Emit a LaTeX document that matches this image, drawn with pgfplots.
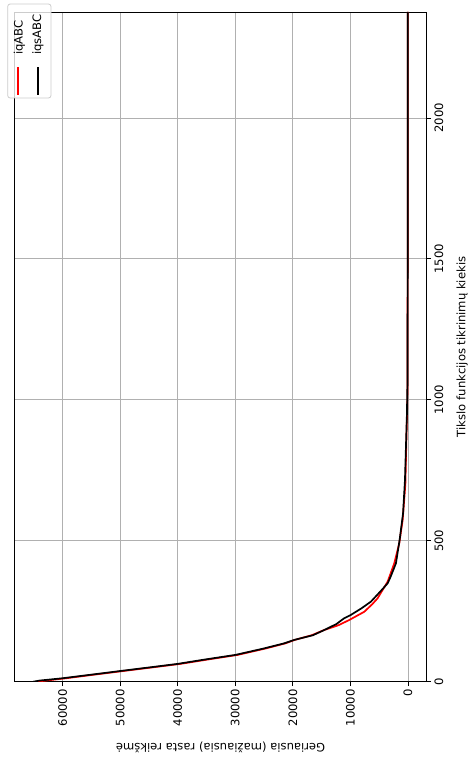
\documentclass[border=0pt]{standalone}
\usepackage{fontspec}
\setmainfont{DejaVu Sans}
\usepackage{pgfplots}
\pgfplotsset{compat=1.18}

\begin{document}
\begin{tikzpicture}[font=\fontsize{11.6}{13.5}\selectfont]
  % page size of the reference, axis box starts at (0,0)
  \useasboundingbox (-14.5pt,-81.3pt) rectangle (455.5pt,681.7pt);
  \begin{axis}[
      scale only axis,
      width=412.2pt,
      height=669.7pt,
      x dir=reverse,
      xmin=-3255, xmax=68355,
      ymin=0, ymax=2376,
      xtick={0,10000,20000,30000,40000,50000,60000},
      ytick={0,500,1000,1500,2000},
      scaled x ticks=false,
      /pgf/number format/1000 sep={},
      /pgf/number format/assume math mode=true,
      xtick pos=bottom,
      ytick pos=right,
      yticklabel pos=right,
      tick align=outside,
      major tick length=4.5pt,
      every tick/.style={black, line width=0.9pt},
      xticklabel style={rotate=90, anchor=east, inner sep=3pt},
      yticklabel style={rotate=90, anchor=north, inner sep=3pt},
      xlabel={Geriausia (mažiausia) rasta reikšmė},
      xlabel style={at={(rel axis cs:0.5,-0.0985)}, anchor=center, rotate=180},
      ylabel={Tikslo funkcijos tikrinimų kiekis},
      ylabel style={at={(rel axis cs:1.086,0.5)}, anchor=center},
      grid=major,
      major grid style={color=black!31, line width=0.9pt},
      axis line style={black, line width=0.9pt},
    ]
    % iqABC
    \addplot[red, line width=1.7pt] coordinates {
      (64600,0) (59500,12) (54500,25) (49400,38) (44700,50) (39600,63)
      (35000,78) (29600,95) (24700,118) (21300,136) (19700,148)
      (16700,165) (14600,183) (12000,201) (10200,219) (7600,248)
      (6200,275) (5270,296) (3530,355) (2380,420) (1510,491) (920,574)
      (450,700) (300,834) (100,1000) (50,1500) (25,2376)
    };
    % iqsABC
    \addplot[black, line width=1.7pt] coordinates {
      (65100,0) (64000,4) (60100,12) (55000,25) (49960,38) (45200,50)
      (40090,63) (35500,78) (30000,95) (25010,118) (21530,136)
      (19790,148) (16500,165) (14570,183) (12400,205) (11090,225)
      (9920,237) (8100,260) (6440,284) (4800,320) (3530,349) (3000,373)
      (2090,420) (1450,503) (850,598) (520,716) (350,834) (180,950)
      (80,1071) (50,1500) (40,2000) (30,2376)
    };
  \end{axis}
  % legend, turned a quarter turn like the rest of the chart
  \draw[black!20, fill=white, fill opacity=0.8, rounded corners=2.5pt, line width=0.8pt]
    (-6.8pt,583.7pt) rectangle (36.5pt,677.7pt);
  \draw[red, line width=1.7pt] (3.8pt,586.7pt) -- (3.8pt,614.7pt);
  \draw[black, line width=1.7pt] (23.8pt,586.7pt) -- (23.8pt,614.7pt);
  \node[rotate=90, anchor=west, inner sep=0pt] at (4.8pt,626.7pt) {iqABC};
  \node[rotate=90, anchor=west, inner sep=0pt] at (23.3pt,626.7pt) {iqsABC};
\end{tikzpicture}
\end{document}
